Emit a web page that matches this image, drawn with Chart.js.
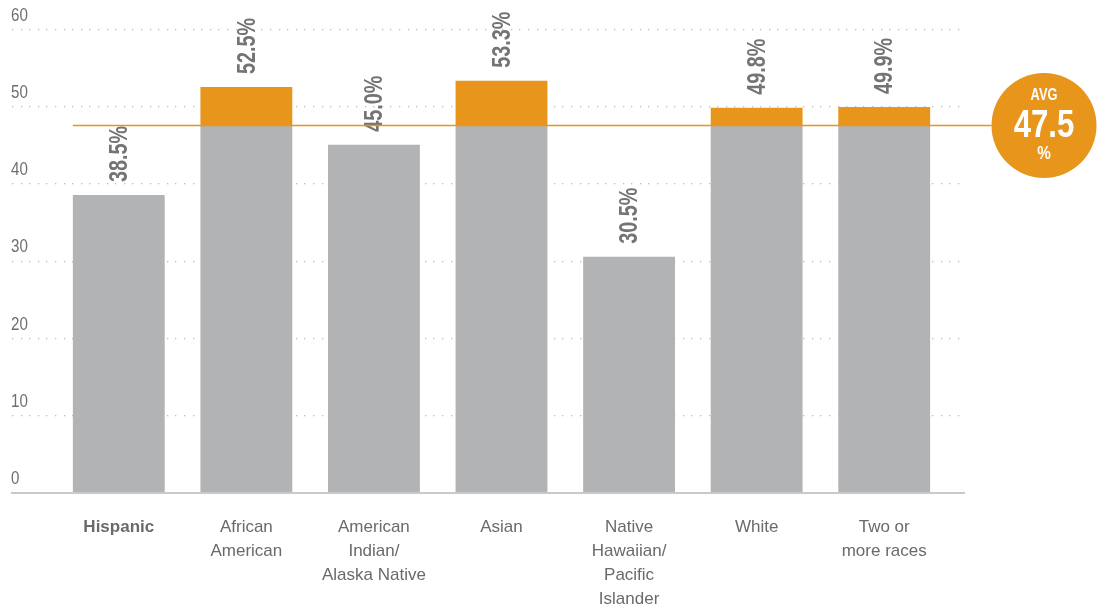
<!DOCTYPE html>
<html>
<head>
<meta charset="utf-8">
<script src="https://cdn.jsdelivr.net/npm/chart.js@4.4.1/dist/chart.umd.min.js"></script>
<style>
  html, body { margin: 0; padding: 0; background: #fff; }
  #wrap { width: 1099px; height: 614px; }
</style>
</head>
<body>
<div id="wrap"><canvas id="chart"></canvas></div>
<script>
// data
const categories = [
  ["Hispanic"],
  ["African", "American"],
  ["American", "Indian/", "Alaska Native"],
  ["Asian"],
  ["Native", "Hawaiian/", "Pacific", "Islander"],
  ["White"],
  ["Two or", "more races"]
];
const values = [38.5, 52.5, 45.0, 53.3, 30.5, 49.8, 49.9];
const average = 47.5;
const yTicks = [0, 10, 20, 30, 40, 50, 60];

const FONT = '"Liberation Sans", Arial, sans-serif';
const GRAY = "#b2b3b5";
const ORANGE = "#e8951b";

// split each bar at the average line
const belowAvg = values.map((v) => Math.min(v, average));
const aboveAvg = values.map((v) => Math.max(0, +(v - average).toFixed(1)));

// draw text squeezed horizontally (the original uses a condensed face)
function squeezed(ctx, text, x, y, font, sx, angle) {
  ctx.save();
  ctx.translate(x, y);
  if (angle) ctx.rotate(angle);
  ctx.scale(sx, 1);
  ctx.font = font;
  ctx.fillText(text, 0, 0);
  ctx.restore();
}

const extras = {
  id: "extras",
  beforeDatasetsDraw(chart) {
    const ctx = chart.ctx;
    const y = chart.scales.y;
    ctx.save();
    // dotted grid
    ctx.fillStyle = "#bdbdbd";
    yTicks.forEach((t) => {
      if (t === 0) return;
      const py = Math.round(y.getPixelForValue(t));
      for (let x = 12; x < 966; x += 8.6) {
        ctx.fillRect(Math.round(x), py, 1.3, 1.3);
      }
    });
    // y labels sit above their line
    ctx.fillStyle = "#6e6e6e";
    ctx.textAlign = "left";
    ctx.textBaseline = "middle";
    yTicks.forEach((t) => {
      const py = y.getPixelForValue(t);
      squeezed(ctx, String(t), 11, py - 13, "18px " + FONT, 0.84);
    });
    ctx.restore();
  },
  afterDatasetsDraw(chart) {
    const ctx = chart.ctx;
    const y = chart.scales.y;
    const meta = chart.getDatasetMeta(0);
    ctx.save();

    // baseline
    const y0 = y.getPixelForValue(0);
    ctx.fillStyle = "#c9c9c9";
    ctx.fillRect(11, y0, 954, 2);

    // value labels, rotated
    ctx.fillStyle = "#747474";
    ctx.textAlign = "left";
    ctx.textBaseline = "middle";
    values.forEach((v, i) => {
      const bar = meta.data[i];
      const top = y.getPixelForValue(v);
      squeezed(ctx, v.toFixed(1) + "%", bar.x + 1, top - 13, "bold 26px " + FONT, 0.76, -Math.PI / 2);
    });

    // average line + badge
    const ya = y.getPixelForValue(average);
    const cx = 1044, r = 52.5;
    const first = meta.data[0];
    ctx.strokeStyle = ORANGE;
    ctx.lineWidth = 1.5;
    ctx.beginPath();
    ctx.moveTo(first.x - first.width / 2, ya);
    ctx.lineTo(cx - r, ya);
    ctx.stroke();

    ctx.fillStyle = ORANGE;
    ctx.beginPath();
    ctx.arc(cx, ya, r, 0, Math.PI * 2);
    ctx.fill();

    ctx.fillStyle = "#ffffff";
    ctx.textAlign = "center";
    ctx.textBaseline = "middle";
    squeezed(ctx, "AVG", cx, ya - 30, "bold 16px " + FONT, 0.8);
    squeezed(ctx, average.toFixed(1), cx, ya + 1, "bold 39px " + FONT, 0.8);
    squeezed(ctx, "%", cx, ya + 29, "bold 18px " + FONT, 0.85);

    ctx.restore();
  }
};

new Chart(document.getElementById("chart").getContext("2d"), {
  type: "bar",
  data: {
    labels: categories,
    datasets: [
      {
        label: "Below average",
        data: belowAvg,
        backgroundColor: GRAY,
        categoryPercentage: 0.72,
        barPercentage: 1.0,
        stack: "s"
      },
      {
        label: "Above average",
        data: aboveAvg,
        backgroundColor: ORANGE,
        categoryPercentage: 0.72,
        barPercentage: 1.0,
        stack: "s"
      }
    ]
  },
  options: {
    responsive: true,
    maintainAspectRatio: false,
    animation: false,
    layout: { padding: { top: 29, left: 11, right: 151, bottom: 0 } },
    plugins: {
      legend: { display: false },
      tooltip: { enabled: false }
    },
    scales: {
      x: {
        stacked: true,
        grid: { display: false, drawTicks: false },
        border: { display: false },
        ticks: {
          padding: 23,
          color: "#6a6a6a",
          maxRotation: 0,
          autoSkip: false,
          font: (c) => ({
            family: FONT,
            size: 17,
            lineHeight: 1.42,
            weight: c.index === 0 ? "bold" : "normal"
          })
        },
        afterFit: (s) => {
          s.height = 122;
          s.paddingLeft = 0;
          s.paddingRight = 0;
        }
      },
      y: {
        stacked: true,
        min: 0,
        max: 60,
        grid: { display: false, drawTicks: false },
        border: { display: false },
        ticks: { display: false, stepSize: 10 },
        afterFit: (s) => {
          s.width = 44;
          s.paddingTop = 0;
          s.paddingBottom = 0;
        }
      }
    }
  },
  plugins: [extras]
});
</script>
</body>
</html>
